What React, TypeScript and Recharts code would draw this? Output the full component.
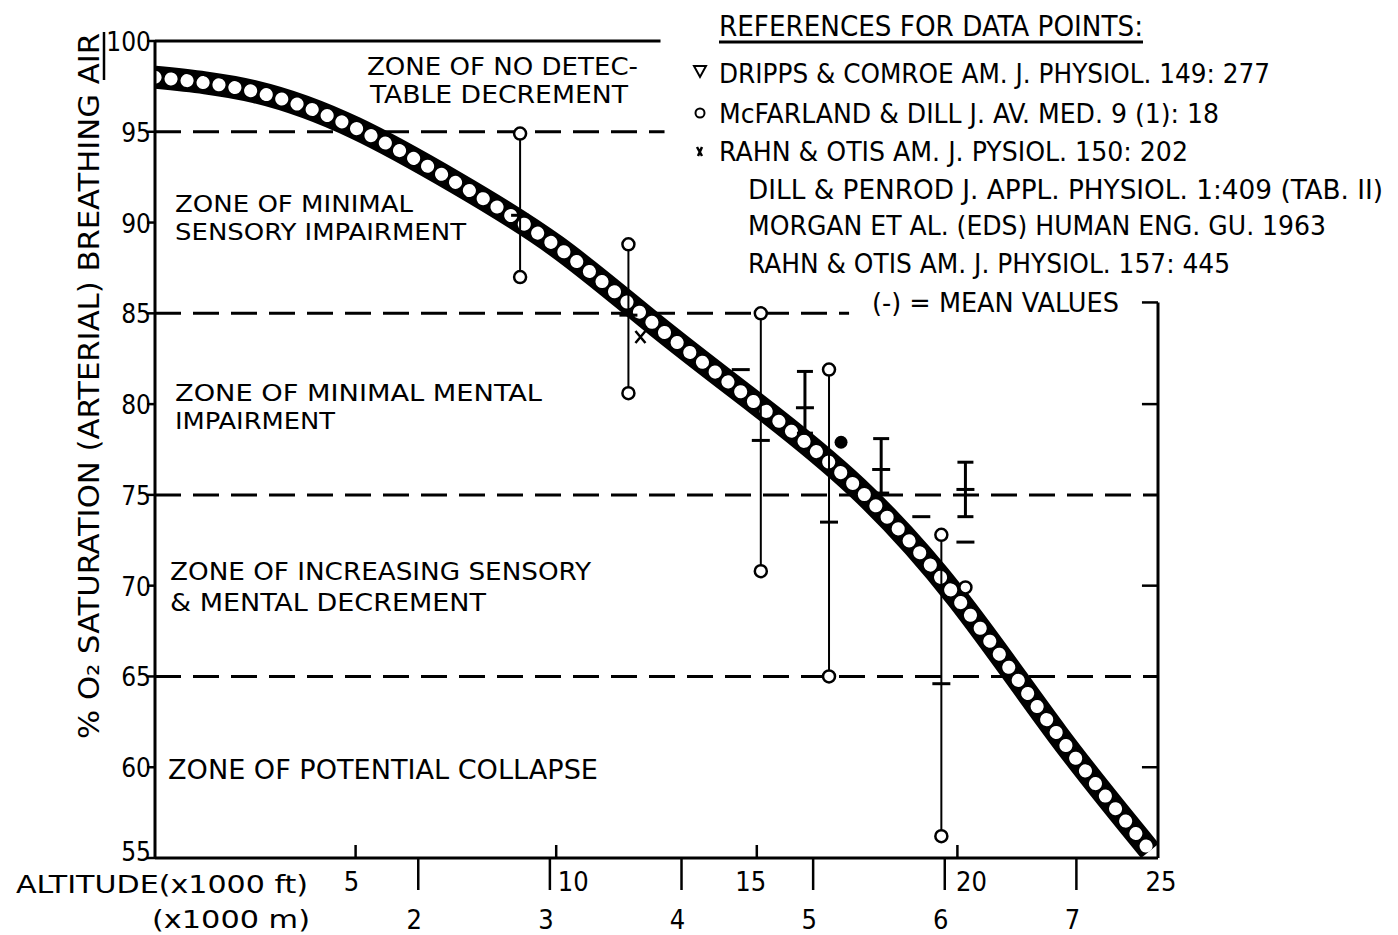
import React from "react";
import {
  ComposedChart,
  Line,
  Scatter,
  ErrorBar,
  XAxis,
  YAxis,
  ReferenceLine,
} from "recharts";

// O2 saturation band (altitude in 1000 ft -> % saturation)
const altitudeFt = [0, 2.5, 5, 7.5, 10, 12.5, 15, 17.5, 20, 22.5, 24.8];
const saturation = [98.0, 97.2, 95.2, 92.2, 88.7, 84.3, 80.0, 75.4, 69.3, 61.8, 55.4];

// long ranges, open circles at both ends
const rangeAlt = [9.1, 11.8, 15.1, 16.8, 19.6];
const rangeLow = [87.0, 80.6, 70.8, 65.0, 56.2];
const rangeHigh = [94.9, 88.8, 85.0, 81.9, 72.8];
const rangeMean = [90.4, 84.9, 78.0, 73.5, 64.6];

// short ranges
const shortAlt = [16.2, 18.1, 20.2];
const shortLow = [78.4, 75.1, 73.8];
const shortHigh = [81.8, 78.1, 76.8];
const shortMean = [79.8, 76.4, 75.3];

// single marks
const meanAlt = [14.6, 19.1, 20.2];
const meanVal = [81.9, 73.8, 72.4];
const circleAlt = [20.2];
const circleVal = [69.9];
const dotAlt = [17.1];
const dotVal = [77.9];
const crossAlt = [12.1];
const crossVal = [83.7];

// zone boundaries
const zoneLevels = [95, 85, 75, 65];
const zoneEnds = [12.7, 17.3, 25, 25];

const ftTicks = [5, 10, 15, 20, 25];
const mTicks = [2, 3, 4, 5, 6, 7];
const satTicks = [55, 60, 65, 70, 75, 80, 85, 90, 95, 100];
const FT_PER_M = 3.28084;

const curve = altitudeFt.map((x, i) => ({ x, y: saturation[i] }));
const ranges = rangeAlt.map((x, i) => ({
  x,
  y: rangeMean[i],
  err: [rangeMean[i] - rangeLow[i], rangeHigh[i] - rangeMean[i]],
}));
const rangeEnds = rangeAlt.flatMap((x, i) => [
  { x, y: rangeLow[i] },
  { x, y: rangeHigh[i] },
]);
const shorts = shortAlt.map((x, i) => ({
  x,
  y: shortMean[i],
  err: [shortMean[i] - shortLow[i], shortHigh[i] - shortMean[i]],
}));
const means = meanAlt.map((x, i) => ({ x, y: meanVal[i] }));
const circles = circleAlt.map((x, i) => ({ x, y: circleVal[i] }));
const dots = dotAlt.map((x, i) => ({ x, y: dotVal[i] }));
const crosses = crossAlt.map((x, i) => ({ x, y: crossVal[i] }));

const FONT = "'Liberation Sans Narrow', 'DejaVu Sans Condensed', 'Liberation Sans', Arial, sans-serif";

function T({ x, y, w, s = 27, a = "start", children }: any) {
  return (
    <text
      x={x}
      y={y}
      fontSize={s}
      textAnchor={a}
      fontFamily={FONT}
      fill="#000"
      textLength={w}
      lengthAdjust={w ? "spacingAndGlyphs" : undefined}
    >
      {children}
    </text>
  );
}

const FtTick = (props: any) => {
  const { x, y, payload } = props;
  const v = payload.value;
  const shift: any = { 5: -4, 10: 17, 15: -6, 20: 14, 25: 3 };
  return (
    <g>
      {v < 25 && <line x1={x} x2={x} y1={y} y2={y - 13} stroke="#000" strokeWidth={2.5} />}
      <T x={x + shift[v]} y={y + 33} s={27} a="middle">{v}</T>
    </g>
  );
};

const MTick = (props: any) => {
  const { x, y, payload } = props;
  return (
    <g>
      <line x1={x} x2={x} y1={y - 30} y2={y + 2} stroke="#000" strokeWidth={2.5} />
      <T x={x - 4} y={y + 41} s={27} a="middle">{payload.value}</T>
    </g>
  );
};

const YTick = (props: any) => {
  const { x, y, payload } = props;
  const v = payload.value;
  return (
    <g>
      <line x1={x - 8} x2={x} y1={y} y2={y} stroke="#000" strokeWidth={2.5} />
      <T x={x - 4} y={y + (v === 55 ? 3 : 10)} s={26} a="end">{v}</T>
    </g>
  );
};

const MeanDash = (p: any) => (
  <line x1={p.cx - 9} x2={p.cx + 9} y1={p.cy} y2={p.cy} stroke="#000" strokeWidth={3} />
);
const OpenCircle = (p: any) => (
  <circle cx={p.cx} cy={p.cy} r={6} fill="#fff" stroke="#000" strokeWidth={2.5} />
);
const FilledDot = (p: any) => <circle cx={p.cx} cy={p.cy} r={6.5} fill="#000" />;
const CrossMark = (p: any) => (
  <path
    d={`M${p.cx - 5},${p.cy - 6} L${p.cx + 5},${p.cy + 6} M${p.cx + 5},${p.cy - 6} L${p.cx - 5},${p.cy + 6}`}
    stroke="#000"
    strokeWidth={2.5}
  />
);

const ax = { xAxisId: "ft", yAxisId: "s" };

export default function App() {
  return (
    <div style={{ position: "absolute", left: 0, top: 0, width: 1398, height: 935, background: "#fff" }}>
      <ComposedChart
        width={1398}
        height={935}
        margin={{ top: 41, right: 240, bottom: 0, left: 0 }}
      >
        <XAxis
          xAxisId="ft"
          type="number"
          dataKey="x"
          domain={[0, 25]}
          ticks={ftTicks}
          height={30}
          axisLine={{ stroke: "#000", strokeWidth: 3 }}
          tickLine={false}
          tickSize={0}
          tickMargin={0}
          tick={<FtTick />}
          allowDataOverflow
        />
        <XAxis
          xAxisId="m"
          type="number"
          dataKey="x"
          domain={[0, 25 / FT_PER_M]}
          ticks={mTicks}
          height={47}
          axisLine={false}
          tickLine={false}
          tickSize={0}
          tickMargin={0}
          tick={<MTick />}
          allowDataOverflow
        />
        <YAxis
          yAxisId="s"
          type="number"
          dataKey="y"
          domain={[55, 100]}
          ticks={satTicks}
          width={155}
          axisLine={{ stroke: "#000", strokeWidth: 3 }}
          tickLine={false}
          tickSize={0}
          tickMargin={0}
          tick={<YTick />}
          allowDataOverflow
        />

        {zoneLevels.map((lv, i) => (
          <ReferenceLine
            key={lv}
            {...ax}
            segment={[{ x: 0, y: lv }, { x: zoneEnds[i], y: lv }]}
            stroke="#000"
            strokeWidth={3}
            strokeDasharray="26 12"
          />
        ))}
        <ReferenceLine {...ax} segment={[{ x: 0, y: 100 }, { x: 12.6, y: 100 }]} stroke="#000" strokeWidth={3} />
        <ReferenceLine {...ax} segment={[{ x: 25, y: 85.6 }, { x: 25, y: 55 }]} stroke="#000" strokeWidth={3} />
        {[85.6, 80, 70, 60].map((v) => (
          <ReferenceLine key={v} {...ax} segment={[{ x: 24.6, y: v }, { x: 25, y: v }]} stroke="#000" strokeWidth={2.5} />
        ))}

        {/* ringed band: black stroke with white round dots on top */}
        <Line {...ax} data={curve} dataKey="y" type="natural" stroke="#000" strokeWidth={23} dot={false} isAnimationActive={false} />
        <Line
          {...ax}
          data={curve}
          dataKey="y"
          type="natural"
          stroke="#fff"
          strokeWidth={13}
          strokeLinecap="round"
          strokeDasharray="0.1 16"
          dot={false}
          isAnimationActive={false}
        />

        <Scatter {...ax} data={ranges} dataKey="y" shape={<MeanDash />} isAnimationActive={false}>
          <ErrorBar dataKey="err" direction="y" width={0} stroke="#000" strokeWidth={2} />
        </Scatter>
        <Scatter {...ax} data={shorts} dataKey="y" shape={<MeanDash />} isAnimationActive={false}>
          <ErrorBar dataKey="err" direction="y" width={8} stroke="#000" strokeWidth={3} />
        </Scatter>
        <Scatter {...ax} data={rangeEnds} dataKey="y" shape={<OpenCircle />} isAnimationActive={false} />
        <Scatter {...ax} data={means} dataKey="y" shape={<MeanDash />} isAnimationActive={false} />
        <Scatter {...ax} data={circles} dataKey="y" shape={<OpenCircle />} isAnimationActive={false} />
        <Scatter {...ax} data={dots} dataKey="y" shape={<FilledDot />} isAnimationActive={false} />
        <Scatter {...ax} data={crosses} dataKey="y" shape={<CrossMark />} isAnimationActive={false} />
      </ComposedChart>

      <svg
        width={1398}
        height={935}
        style={{ position: "absolute", left: 0, top: 0, pointerEvents: "none" }}
      >
        {/* y title */}
        <g transform="translate(99, 386) rotate(-90)">
          <T x={0} y={0} w={706} s={28} a="middle">% O₂ SATURATION (ARTERIAL) BREATHING AIR</T>
        </g>
        <line x1={104} x2={104} y1={32} y2={80} stroke="#000" strokeWidth={2.5} />

        {/* x titles */}
        <T x={16} y={893} w={292} s={25}>ALTITUDE(x1000  ft)</T>
        <T x={152} y={928} w={158} s={25}>(x1000  m)</T>

        {/* zone labels */}
        <T x={367} y={75} w={271} s={24}>ZONE OF NO DETEC-</T>
        <T x={370} y={103} w={258} s={24}>TABLE DECREMENT</T>
        <T x={175} y={212} w={238} s={23}>ZONE OF MINIMAL</T>
        <T x={175} y={240} w={291} s={23}>SENSORY IMPAIRMENT</T>
        <T x={175} y={401} w={367} s={23}>ZONE OF MINIMAL  MENTAL</T>
        <T x={175} y={429} w={160} s={23}>IMPAIRMENT</T>
        <T x={170} y={580} w={421} s={25}>ZONE OF INCREASING SENSORY</T>
        <T x={170} y={611} w={316} s={25}>&amp; MENTAL DECREMENT</T>
        <T x={168} y={779} w={430} s={26}>ZONE OF POTENTIAL COLLAPSE</T>

        {/* references */}
        <T x={719} y={36} w={424} s={29}>REFERENCES FOR DATA POINTS:</T>
        <line x1={719} x2={1143} y1={42} y2={42} stroke="#000" strokeWidth={3} />
        <path d="M694,66 L706,66 L700,77 Z" fill="#fff" stroke="#000" strokeWidth={2} />
        <circle cx={700} cy={113} r={4.5} fill="#fff" stroke="#000" strokeWidth={2} />
        <path d="M697,147 L702,156 M702,147 L698,156" stroke="#000" strokeWidth={2.5} />
        <T x={719} y={83} w={551} s={27}>DRIPPS &amp; COMROE  AM. J. PHYSIOL. 149: 277</T>
        <T x={719} y={123} w={500} s={27}>McFARLAND &amp; DILL  J. AV. MED. 9 (1): 18</T>
        <T x={719} y={161} w={469} s={27}>RAHN &amp; OTIS  AM. J. PYSIOL. 150: 202</T>
        <T x={748} y={199} w={635} s={27}>DILL &amp; PENROD J. APPL. PHYSIOL. 1:409 (TAB. II)</T>
        <T x={748} y={235} w={578} s={27}>MORGAN  ET AL. (EDS) HUMAN ENG. GU. 1963</T>
        <T x={748} y={273} w={482} s={27}>RAHN &amp; OTIS AM. J. PHYSIOL. 157: 445</T>
        <T x={872} y={312} w={247} s={27}>(-) = MEAN VALUES</T>
      </svg>
    </div>
  );
}
